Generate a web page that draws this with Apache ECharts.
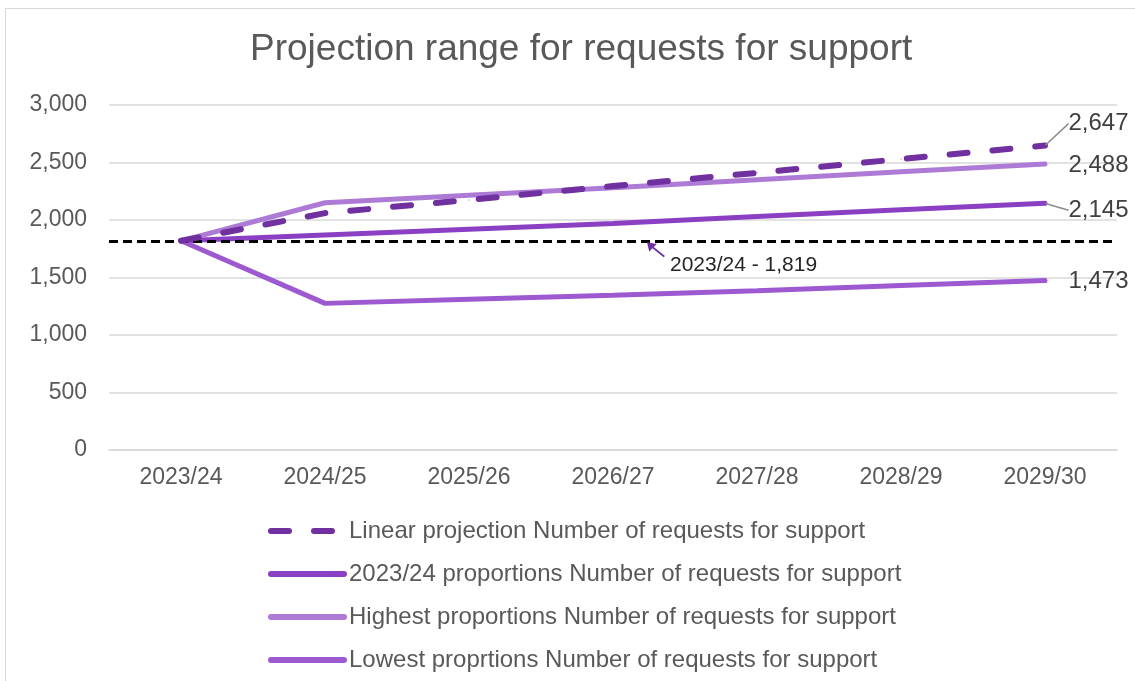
<!DOCTYPE html>
<html>
<head>
<meta charset="utf-8">
<script src="https://cdn.jsdelivr.net/npm/echarts@6/dist/echarts.min.js"></script>
<style>
  html, body { margin: 0; padding: 0; background: #fff; }
  #chart { position: absolute; left: 0; top: 0; width: 1135px; height: 681px; }
  #frame { position: absolute; left: 5px; top: 8px; width: 1140px; height: 690px; border: 1px solid #d9d9d9; pointer-events: none; }
</style>
</head>
<body>
<div id="chart"></div>
<div id="frame"></div>
<script>
const years = ['2023/24', '2024/25', '2025/26', '2026/27', '2027/28', '2028/29', '2029/30']
const linear = [1819, 2060, 2175, 2295, 2410, 2530, 2647]
const current = [1819, 1870, 1920, 1970, 2030, 2090, 2145]
const highest = [1819, 2150, 2215, 2280, 2350, 2420, 2488]
const lowest = [1819, 1275, 1310, 1345, 1385, 1430, 1473]
const baseline = 1819
const yTicks = [0, 500, 1000, 1500, 2000, 2500, 3000]

const font = '"Liberation Sans", Arial, sans-serif'
const grey = '#595959'

// only the last point carries a value label
function withEndLabel(values) {
  return values.map((v, i) => {
    if (i !== values.length - 1) return v
    return {
      value: v,
      label: {
        show: true,
        position: 'right',
        distance: 23,
        fontSize: 24,
        color: '#404040',
        fontFamily: font,
        formatter: (p) => p.value.toLocaleString('en-GB')
      }
    }
  })
}

function line(name, values, color, width, type, dy, leader) {
  return {
    name: name,
    type: 'line',
    data: withEndLabel(values),
    symbol: 'circle',
    symbolSize: 1,
    showSymbol: true,
    lineStyle: { color: color, width: width, type: type, cap: 'round' },
    itemStyle: { color: color },
    labelLayout: () => ({ dy: dy }),
    labelLine: { show: leader, length2: 0, lineStyle: { color: '#8c8c8c', width: 1.5 } }
  }
}

const chart = echarts.init(document.getElementById('chart'))

const linearSeries = line('Linear projection Number of requests for support', linear, '#7030a0', 6, [18, 25], -22, true)
linearSeries.z = 5
linearSeries.markLine = {
  silent: true,
  symbol: 'none',
  label: { show: false },
  lineStyle: { color: '#000', width: 3, type: [9, 5], cap: 'butt' },
  data: [{ yAxis: baseline }]
}
linearSeries.markPoint = {
  silent: true,
  data: [{
    coord: [3, baseline],
    symbol: 'path://M0,0 L11,2 L7.5,5.5 L20,16 L18.5,17.5 L6,7 L2.5,11 Z',
    symbolSize: [18, 15],
    symbolOffset: [43, 9],
    itemStyle: { color: '#7030a0' },
    label: {
      show: true,
      position: [23, 12],
      formatter: years[0] + ' - ' + baseline.toLocaleString('en-GB'),
      fontFamily: font,
      fontSize: 21,
      color: '#262626'
    }
  }]
}

chart.setOption({
  animation: false,
  title: {
    text: 'Projection range for requests for support',
    left: 245,
    top: 26,
    textStyle: { fontFamily: font, fontSize: 37, fontWeight: 'normal', color: grey }
  },
  legend: {
    orient: 'vertical',
    left: 263,
    top: 514,
    itemWidth: 73,
    itemHeight: 20,
    itemGap: 19,
    itemStyle: { opacity: 0 },
    lineStyle: { width: 6, cap: 'round' },
    textStyle: { fontFamily: font, fontSize: 24, lineHeight: 24, color: grey }
  },
  grid: { left: 109, right: 18, top: 105, bottom: 231 },
  xAxis: {
    type: 'category',
    data: years,
    boundaryGap: true,
    axisTick: { show: false },
    axisLine: { lineStyle: { color: '#d9d9d9', width: 1.5 } },
    axisLabel: { fontFamily: font, fontSize: 23, color: grey, margin: 16 }
  },
  yAxis: {
    type: 'value',
    min: yTicks[0],
    max: yTicks[yTicks.length - 1],
    interval: 500,
    axisLine: { show: false },
    axisTick: { show: false },
    splitLine: { lineStyle: { color: '#d9d9d9', width: 1.5 } },
    axisLabel: {
      fontFamily: font, fontSize: 23, color: grey, margin: 22,
      formatter: (v) => v.toLocaleString('en-GB')
    }
  },
  series: [
    linearSeries,
    line('2023/24 proportions Number of requests for support', current, '#8b40c4', 5, 'solid', 7, true),
    line('Highest proportions Number of requests for support', highest, '#ad7ad6', 5, 'solid', 1, false),
    line('Lowest proprtions Number of requests for support', lowest, '#9d5ad0', 5, 'solid', 1, false)
  ]
})

window.addEventListener('resize', () => chart.resize())
</script>
</body>
</html>
